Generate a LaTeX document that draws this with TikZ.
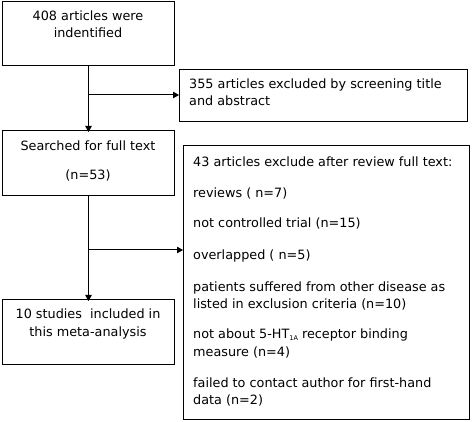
\documentclass[tikz,border=0pt]{standalone}
\usepackage{fontspec}
\setmainfont{DejaVu Sans}
\usetikzlibrary{arrows.meta}
\begin{document}
\begin{tikzpicture}[x=1pt,y=-1pt,
  box/.style={draw, line width=1pt, inner sep=0, anchor=north west},
  txt/.style={inner sep=0, font=\fontsize{12.8}{17}\selectfont},
  lt/.style={txt, anchor=base west},
  ct/.style={txt, anchor=base},
  conn/.style={line width=1pt},
  tip/.style={-{Triangle[length=6pt,width=6.5pt]}}]
\useasboundingbox (0,0) rectangle (472,422);
% boxes
\node[box, minimum width=172pt, minimum height=64pt] (b1) at (2,1) {};
\node[box, minimum width=288pt, minimum height=52pt] (b2) at (179,69) {};
\node[box, minimum width=172pt, minimum height=65pt] (b3) at (2,130) {};
\node[box, minimum width=286pt, minimum height=274pt] (b4) at (183,145) {};
\node[box, minimum width=172pt, minimum height=65pt] (b5) at (2,299) {};
% texts
\node[ct] (t1a) at (88,20.5) {408 articles were};
\node[ct] (t1b) at (88,37.5) {indentified};
\node[lt] (t2a) at (189,89) {355 articles excluded by screening title};
\node[lt] (t2b) at (189,106) {and abstract};
\node[ct] (t3a) at (88,150.5) {Searched for full text};
\node[ct] (t3b) at (88,180) {(n=53)};
\node[lt] (t4a) at (193,167) {43 articles exclude after review full text:};
\node[lt] (t4b) at (193,197.5) {reviews ( n=7)};
\node[lt] (t4c) at (193,228) {not controlled trial (n=15)};
\node[lt] (t4d) at (193,260) {overlapped ( n=5)};
\node[lt] (t4e) at (193,291.5) {patients suffered from other disease as};
\node[lt] (t4f) at (193,308.5) {listed in exclusion criteria (n=10)};
\node[lt] (t4g) at (193,339) {not about 5-HT\raisebox{-1.5pt}{\fontsize{6.5}{7}\selectfont 1A} receptor binding};
\node[lt] (t4h) at (193,356.5) {measure (n=4)};
\node[lt] (t4i) at (193,388) {failed to contact author for first-hand};
\node[lt] (t4j) at (193,405) {data (n=2)};
\node[ct] (t5a) at (88,319) {10 studies\ \ included in};
\node[ct] (t5b) at (88,336.5) {this meta-analysis};
% connectors
\coordinate (j1) at (b1.south |- 0,95);
\coordinate (j2) at (b3.south |- 0,250);
\draw[conn, tip] (b1.south) -- ([yshift=-2pt]b3.north);
\draw[conn, tip] (j1) -- (b2.west |- j1);
\draw[conn, tip] (b3.south) -- ([yshift=-2pt]b5.north);
\draw[conn, tip] (j2) -- (b4.west |- j2);
\end{tikzpicture}
\end{document}
